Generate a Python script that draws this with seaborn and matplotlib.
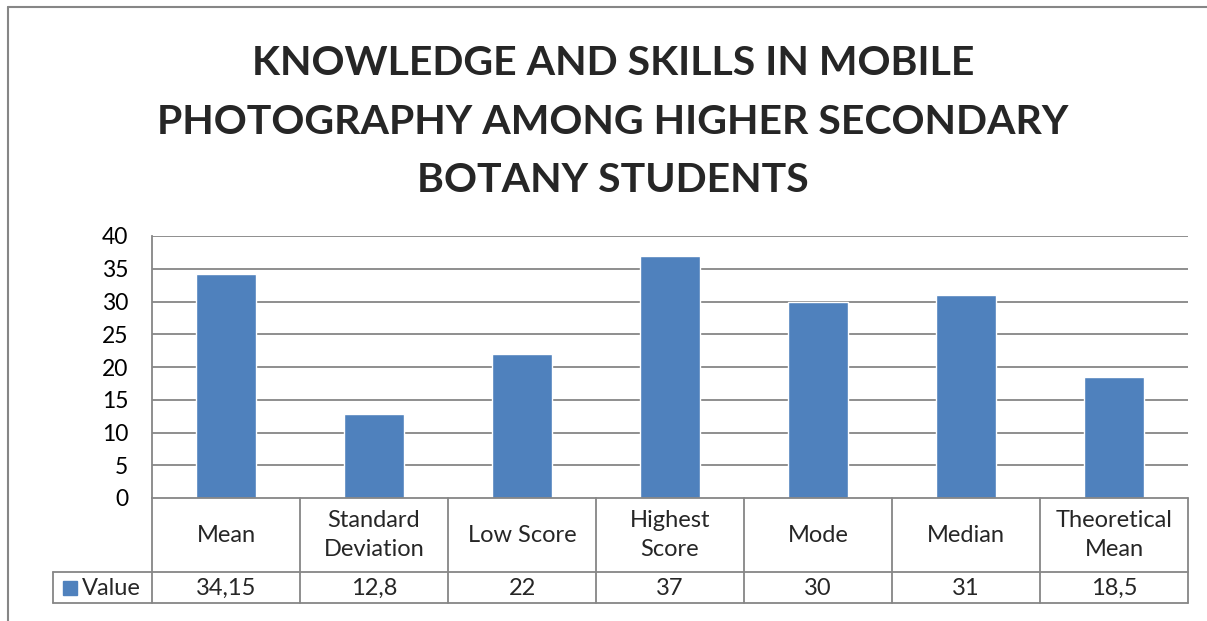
import numpy as np
import pandas as pd
import seaborn as sns
import matplotlib.pyplot as plt
from matplotlib.lines import Line2D
from matplotlib.patches import Rectangle

# Data
categories = ["Mean", "Standard\nDeviation", "Low Score", "Highest\nScore",
              "Mode", "Median", "Theoretical\nMean"]
values = [34.15, 12.8, 22, 37, 30, 31, 18.5]
value_labels = ["34,15", "12,8", "22", "37", "30", "31", "18,5"]
series_name = "Value"
title = "KNOWLEDGE AND SKILLS IN MOBILE\nPHOTOGRAPHY AMONG HIGHER SECONDARY\nBOTANY STUDENTS"

BAR = "#4F81BD"
GRID = "#868686"
W, H = 1207, 621

sns.set_style("white")
plt.rcParams['font.family'] = ['Lato', 'DejaVu Sans']

df = pd.DataFrame({"Category": categories, "Value": values})

fig = plt.figure(figsize=(W / 100, H / 100), dpi=100)


def fx(px):
    return px / W


def fy(py):
    return 1 - py / H


x0, x1, y_top, y_bot = 152, 1188, 236, 498
ax = fig.add_axes([fx(x0), fy(y_bot), fx(x1) - fx(x0), fy(y_top) - fy(y_bot)])
sns.barplot(data=df, x="Category", y="Value", color=BAR, width=0.4,
            saturation=1, ax=ax, zorder=3)
ax.set_xlim(-0.5, len(categories) - 0.5)
ax.set_ylim(0, 40)
ax.set_yticks(range(0, 41, 5))
ax.set_xticks([])
ax.set_xlabel("")
ax.set_ylabel("")
ax.tick_params(axis="y", length=0, labelsize=16.5, pad=17, labelcolor="black")
for sp in ["top", "right", "bottom"]:
    ax.spines[sp].set_visible(False)
ax.spines["left"].set_color(GRID)
ax.spines["left"].set_linewidth(1.3)
for yv in range(5, 41, 5):
    ax.axhline(yv, color=GRID, lw=1.3, zorder=1)

# Data table below the plot (pixel layout)
row1, row2 = 572, 603
lines = [
    ((x0, x1), (y_bot, y_bot)),
    ((53, x1), (row1, row1)),
    ((53, x1), (row2, row2)),
    ((53, 53), (row1, row2)),
]
n = len(categories)
cw = (x1 - x0) / n
for k in range(n + 1):
    xp = x0 + cw * k
    lines.append(((xp, xp), (y_bot, row2)))
for (xs, ys) in lines:
    fig.add_artist(Line2D([fx(xs[0]), fx(xs[1])], [fy(ys[0]), fy(ys[1])],
                          color=GRID, lw=1.3))

for k, (cat, lab) in enumerate(zip(categories, value_labels)):
    cx = x0 + cw * (k + 0.5)
    fig.text(fx(cx), fy((y_bot + row1) / 2), cat, ha="center", va="center",
             fontsize=17, linespacing=1.45)
    fig.text(fx(cx), fy((row1 + row2) / 2 + 1), lab, ha="center", va="center",
             fontsize=17)

# legend key
fig.add_artist(Rectangle((fx(63), fy(595)), fx(14), fy(581) - fy(595),
                         color=BAR, transform=fig.transFigure))
fig.text(fx(82), fy((row1 + row2) / 2 + 1), series_name, ha="left", va="center",
         fontsize=17)

# chart title
fig.text(fx(613), fy(122), title, ha="center", va="center", fontsize=29.5,
         fontweight="bold", linespacing=1.72)

# outer chart frame
fig.add_artist(Line2D([fx(8), fx(8)], [fy(7), fy(H)], color=GRID, lw=1.5))
fig.add_artist(Line2D([fx(8), fx(W)], [fy(7), fy(7)], color=GRID, lw=1.5))

fig.savefig("out.png", dpi=100)
